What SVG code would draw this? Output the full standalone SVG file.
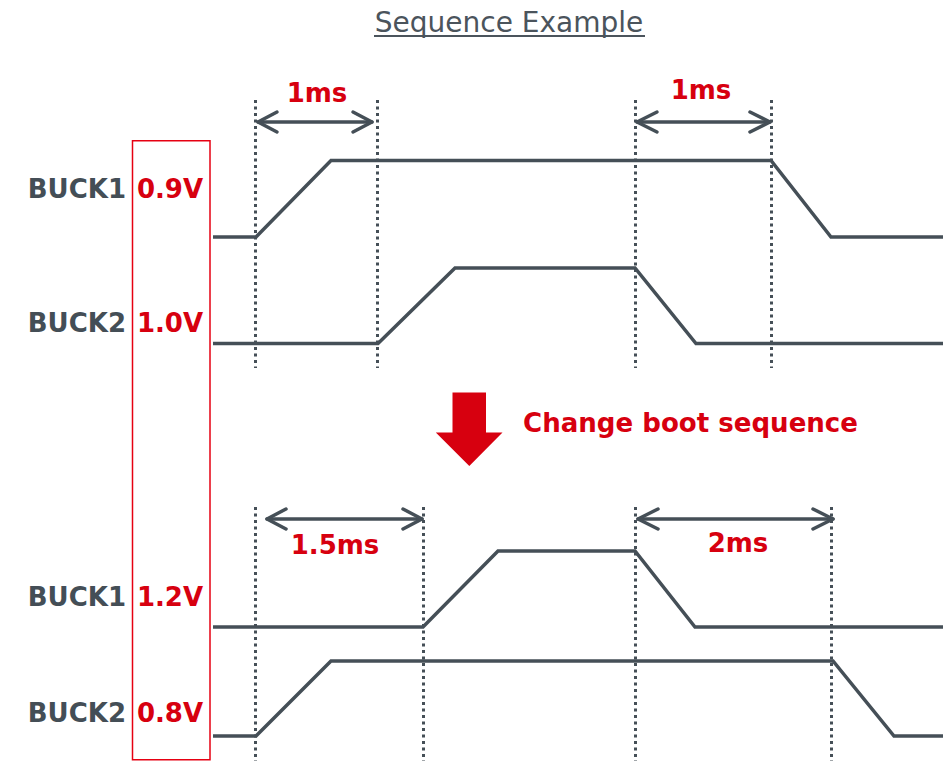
<svg xmlns="http://www.w3.org/2000/svg" width="943" height="761" viewBox="0 0 943 761">
  <defs>
    <style>
      .title { font-family: "DejaVu Sans", "Liberation Sans", sans-serif; font-size: 28px; fill: #4b545c; }
      .name { font-family: "DejaVu Sans", "Liberation Sans", sans-serif; font-weight: bold; font-size: 26px; fill: #444e56; }
      .red { font-family: "DejaVu Sans", "Liberation Sans", sans-serif; font-weight: bold; font-size: 26px; fill: #d7000f; }
      .wave { fill: none; stroke: #454f57; stroke-width: 3.5; stroke-linejoin: miter; }
      .guide { fill: none; stroke: #454f57; stroke-width: 3; stroke-dasharray: 3 3.5; }
      .dim { fill: none; stroke: #454f57; stroke-width: 3.5; stroke-linecap: round; stroke-linejoin: round; }
    </style>
  </defs>
  <rect width="943" height="761" fill="#ffffff"/>

  <!-- heading -->
  <g id="title">
    <text class="title" x="509" y="31.5" text-anchor="middle">Sequence Example</text>
    <rect x="374" y="35" width="271" height="2" fill="#4b545c"/>
  </g>

  <!-- voltage column frame -->
  <rect id="voltage-frame" x="132.5" y="140.75" width="77.5" height="619" fill="none" stroke="#e60012" stroke-width="1.5"/>

  <!-- rail labels -->
  <g id="label-top-buck1">
    <text class="name" x="126" y="198" text-anchor="end">BUCK1</text>
    <text class="red" x="170" y="198" text-anchor="middle">0.9V</text>
  </g>
  <g id="label-top-buck2">
    <text class="name" x="126" y="332" text-anchor="end">BUCK2</text>
    <text class="red" x="170" y="332" text-anchor="middle">1.0V</text>
  </g>
  <g id="label-bottom-buck1">
    <text class="name" x="126" y="606" text-anchor="end">BUCK1</text>
    <text class="red" x="170" y="606" text-anchor="middle">1.2V</text>
  </g>
  <g id="label-bottom-buck2">
    <text class="name" x="126" y="722" text-anchor="end">BUCK2</text>
    <text class="red" x="170" y="722" text-anchor="middle">0.8V</text>
  </g>

  <!-- timing guides -->
  <g id="guides">
    <line class="guide" x1="255.5" y1="100" x2="255.5" y2="368"/>
    <line class="guide" x1="377.5" y1="100" x2="377.5" y2="368"/>
    <line class="guide" x1="635.5" y1="100" x2="635.5" y2="368"/>
    <line class="guide" x1="771.5" y1="100" x2="771.5" y2="368"/>
    <line class="guide" x1="255.5" y1="507" x2="255.5" y2="761"/>
    <line class="guide" x1="423.5" y1="507" x2="423.5" y2="761"/>
    <line class="guide" x1="635.5" y1="507" x2="635.5" y2="761"/>
    <line class="guide" x1="831.5" y1="507" x2="831.5" y2="761"/>
  </g>

  <!-- waveforms -->
  <g id="wave-top-buck1">
    <polyline class="wave" points="213,237 256,237 331,160.5 771,160.5 831,237 943,237"/>
  </g>
  <g id="wave-top-buck2">
    <polyline class="wave" points="213,343.5 378,343.5 455,268 635,268 696,343.5 943,343.5"/>
  </g>
  <g id="wave-bottom-buck1">
    <polyline class="wave" points="213,627 423,627 498,551 635,551 695,627 943,627"/>
  </g>
  <g id="wave-bottom-buck2">
    <polyline class="wave" points="213,736 256,736 331,661 833,661 894,736 943,736"/>
  </g>

  <!-- interval dimensions -->
  <g id="connectors">
    <g id="dim-top-left">
      <line class="dim" x1="258" y1="122" x2="372" y2="122"/>
      <polyline class="dim" points="277,112 258,122 277,132"/>
      <polyline class="dim" points="353,112 372,122 353,132"/>
    </g>
    <g id="dim-top-right">
      <line class="dim" x1="637" y1="122" x2="770" y2="122"/>
      <polyline class="dim" points="657,112 637,122 657,132"/>
      <polyline class="dim" points="750,112 770,122 750,132"/>
    </g>
    <g id="dim-bottom-left">
      <line class="dim" x1="267" y1="519" x2="422" y2="519"/>
      <polyline class="dim" points="286,509 267,519 286,529"/>
      <polyline class="dim" points="403,509 422,519 403,529"/>
    </g>
    <g id="dim-bottom-right">
      <line class="dim" x1="638" y1="519" x2="833" y2="519"/>
      <polyline class="dim" points="658,509 638,519 658,529"/>
      <polyline class="dim" points="813,509 833,519 813,529"/>
    </g>
  </g>

  <g id="dim-labels">
    <text class="red" x="317" y="102" text-anchor="middle">1ms</text>
    <text class="red" x="701" y="99" text-anchor="middle">1ms</text>
    <text class="red" x="335" y="554" text-anchor="middle">1.5ms</text>
    <text class="red" x="738" y="552" text-anchor="middle">2ms</text>
  </g>

  <!-- change indicator -->
  <g id="change-arrow">
    <polygon points="452.5,392.5 486,392.5 486,432.5 502.5,432.5 469.3,466 435.8,432.5 452.5,432.5" fill="#d7000f"/>
    <text class="red" x="523" y="432" textLength="335" lengthAdjust="spacingAndGlyphs">Change boot sequence</text>
  </g>
</svg>
